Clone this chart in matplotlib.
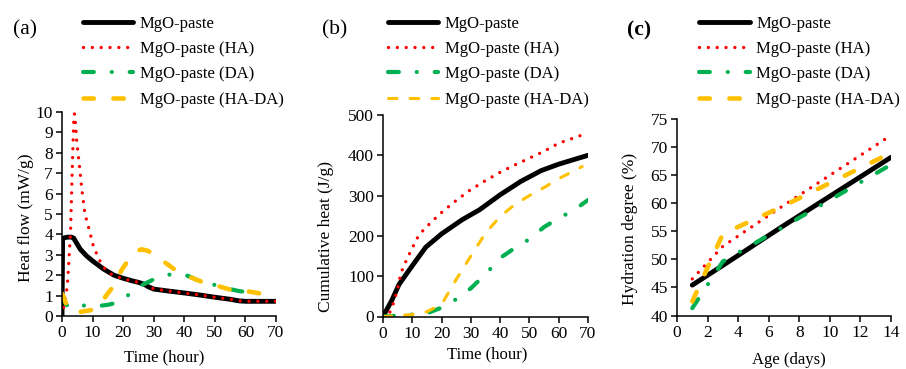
import matplotlib
matplotlib.use("Agg")
import matplotlib.pyplot as plt

plt.rcParams['font.family'] = ['Liberation Serif', 'DejaVu Serif']
plt.rcParams['font.size'] = 12

# ---------------- data ----------------
labels = ["MgO-paste", "MgO-paste (HA)", "MgO-paste (DA)", "MgO-paste (HA-DA)"]

# (a) heat flow
a_t_ctrl = [0, 0.2, 0.5, 1.5, 3.0, 3.8, 6, 8, 10, 13.6, 17, 20, 23, 25, 27, 28, 30, 35, 40, 45, 50, 55, 58, 60, 70]
a_q_ctrl = [0, 3.75, 3.82, 3.86, 3.87, 3.82, 3.27, 2.95, 2.7, 2.3, 2.0, 1.85, 1.72, 1.65, 1.55, 1.45, 1.32, 1.22, 1.13, 1.03, 0.92, 0.82, 0.74, 0.72, 0.72]
a_t_ha = [0, 0.6, 1.7, 2.2, 2.8, 3.3, 3.9, 4.2, 4.8, 5.6, 6.5, 7.5, 8.6, 10.3, 12.5, 14.1, 16.3, 20, 23, 25, 27, 30, 35, 40, 45, 50, 55, 58, 60, 70]
a_q_ha = [0, 0.45, 1.42, 2.55, 4.15, 6.9, 9.9, 9.9, 8.6, 7.5, 6.2, 5.0, 4.4, 3.4, 2.67, 2.3, 2.03, 1.82, 1.72, 1.65, 1.55, 1.33, 1.22, 1.13, 1.03, 0.92, 0.82, 0.74, 0.72, 0.72]
a_t_da = [0, 0.5, 1, 2, 4, 7.6, 10, 12.5, 15, 17.4, 20, 21.9, 24, 25.9, 28, 30.3, 33, 35.2, 38, 40.6, 43, 45.2, 48, 50.1, 53, 55.5, 58, 60, 63]
a_q_da = [1.0, 0.85, 0.65, 0.45, 0.45, 0.52, 0.5, 0.5, 0.55, 0.63, 0.85, 1.05, 1.3, 1.5, 1.65, 1.82, 1.95, 2.03, 2.03, 2.0, 1.85, 1.68, 1.58, 1.52, 1.4, 1.3, 1.22, 1.18, 1.12]
a_t_hd = [0, 0.5, 1.7, 3, 4, 6, 8, 10, 12, 13.5, 15.1, 18, 19.4, 22.1, 24, 26, 28, 29.7, 31, 33.6, 37.3, 40, 42, 46.2, 51, 55.5, 60.3, 65]
a_q_hd = [1.1, 0.95, 0.47, 0.25, 0.17, 0.2, 0.25, 0.3, 0.5, 0.8, 1.13, 1.67, 2.24, 2.82, 3.15, 3.27, 3.2, 3.06, 2.9, 2.63, 2.23, 2.05, 1.9, 1.65, 1.47, 1.27, 1.22, 1.1]

# (b) cumulative heat
b_t_ctrl = [0, 3, 5.5, 10, 14.6, 20, 27, 33, 40, 47, 54, 60, 70]
b_q_ctrl = [0, 40, 80, 126, 172, 205, 240, 265, 302, 335, 362, 378, 400]
b_t_ha = [0, 2, 3.2, 4.9, 6.1, 8.3, 10, 12.3, 16.3, 20.3, 25, 29.4, 34.5, 40, 45, 50, 55, 60, 69]
b_q_ha = [0, 5, 25, 66, 108, 145, 170, 203, 233, 260, 288, 312, 335, 358, 376, 393, 410, 430, 453]
b_t_da = [0, 5, 10, 15, 20, 25, 30, 35, 40, 45, 50, 55, 60, 65, 70]
b_q_da = [0, 2, 5, 8, 22, 43, 70, 105, 145, 170, 192, 222, 244, 263, 289]
b_t_hd = [0, 5, 10, 15, 20, 22, 25, 30, 35, 40, 45, 50, 55, 60, 68]
b_q_hd = [0, 2, 5, 12, 30, 55, 92, 150, 207, 248, 278, 300, 320, 342, 372]

# (c) hydration degree
c_days = [1, 3, 7, 14]
c_ctrl = [45.4, 48.9, 56.0, 68.1]
c_ha = [46.5, 52.3, 59.6, 72.0]
c_da = [41.3, 49.6, 55.8, 66.8]
c_hd = [42.5, 54.5, 59.5, 68.9]

# ---------------- styles ----------------
C_BLACK = "#000000"
C_RED = "#FF0000"
C_GREEN = "#00B050"
C_YELLOW = "#FFC000"

sty_ctrl = dict(color=C_BLACK, lw=3.5, solid_capstyle='round', solid_joinstyle='round')
sty_ha = dict(color=C_RED, lw=2.4, linestyle=(0, (0.01, 2.64)), dash_capstyle='round')
sty_da = dict(color=C_GREEN, lw=3.0, linestyle=(0, (2.6, 4.3, 0.01, 4.3)), dash_capstyle='round')
sty_hd = dict(color=C_YELLOW, lw=3.3, linestyle=(0, (2.26, 4.26)), dash_capstyle='round')
sty_hd_b = dict(color=C_YELLOW, lw=2.2, linestyle=(0, (2.8, 4.3)), dash_capstyle='round')

W, H = 906, 369
fig = plt.figure(figsize=(W / 100, H / 100), dpi=100)

def px_axes(l, r, b, t):
    return fig.add_axes([l / W, 1 - b / H, (r - l) / W, (b - t) / H])

axA = px_axes(62, 276, 316, 112)
axB = px_axes(383, 588, 316.5, 115)
axC = px_axes(677, 891, 315.5, 118.5)

def style_axis(ax):
    for s in ['top', 'right']:
        ax.spines[s].set_visible(False)
    for s in ['left', 'bottom']:
        ax.spines[s].set_linewidth(1.1)
    ax.tick_params(direction='out', length=4, width=1.1, labelsize=12.5, pad=2.5)

# panel a
la = [axA.plot(a_t_ctrl, a_q_ctrl, **sty_ctrl)[0],
      axA.plot(a_t_ha, a_q_ha, **sty_ha)[0],
      axA.plot(a_t_da, a_q_da, **sty_da)[0],
      axA.plot(a_t_hd, a_q_hd, **sty_hd)[0]]
axA.set_xlim(0, 70)
axA.set_ylim(0, 10)
axA.set_xticks(range(0, 71, 10))
axA.set_yticks(range(0, 11, 1))
style_axis(axA)
axA.set_xlabel("Time (hour)", fontsize=12)
axA.set_ylabel("Heat flow (mW/g)", fontsize=12.5)
axA.xaxis.set_label_coords(0.477, -0.165)
axA.yaxis.set_label_coords(-0.131, 0.48)

# panel b
lb = [axB.plot(b_t_ctrl, b_q_ctrl, **sty_ctrl)[0],
      axB.plot(b_t_ha, b_q_ha, **sty_ha)[0],
      axB.plot(b_t_da, b_q_da, **sty_da)[0],
      axB.plot(b_t_hd, b_q_hd, **sty_hd_b)[0]]
axB.set_xlim(0, 70)
axB.set_ylim(0, 500)
axB.set_xticks(range(0, 71, 10))
axB.set_yticks(range(0, 501, 100))
style_axis(axB)
axB.set_xlabel("Time (hour)", fontsize=12)
axB.set_ylabel("Cumulative heat (J/g)", fontsize=12.5)
axB.xaxis.set_label_coords(0.51, -0.149)
axB.yaxis.set_label_coords(-0.241, 0.397)

# panel c
lc = [axC.plot(c_days, c_ctrl, **sty_ctrl)[0],
      axC.plot(c_days, c_ha, **sty_ha)[0],
      axC.plot(c_days, c_da, **sty_da)[0],
      axC.plot(c_days, c_hd, **sty_hd)[0]]
axC.set_xlim(0, 14)
axC.set_ylim(40, 75)
axC.set_xticks(range(0, 15, 2))
axC.set_yticks(range(40, 76, 5))
style_axis(axC)
axC.set_xlabel("Age (days)", fontsize=12)
axC.set_ylabel("Hydration degree (%)", fontsize=12.5)
axC.xaxis.set_label_coords(0.523, -0.185)
axC.yaxis.set_label_coords(-0.18, 0.438)

for ax, hs, x0 in [(axA, la, 82.5), (axB, lb, 387.5), (axC, lc, 699)]:
    ax.legend(hs, labels, loc='upper left', bbox_to_anchor=(x0 / W, 1 - 16 / H),
              bbox_transform=fig.transFigure, frameon=False, borderpad=0,
              borderaxespad=0, handlelength=3.05, handletextpad=0.4,
              labelspacing=0.55, fontsize=12)

fig.text(25 / W, 1 - 30 / H, "(a)", fontsize=15.5, ha='center', va='center')
fig.text(335 / W, 1 - 30 / H, "(b)", fontsize=15.5, ha='center', va='center')
fig.text(639 / W, 1 - 30 / H, "(c)", fontsize=15.5, ha='center', va='center', fontweight='bold')

fig.savefig("out.png", dpi=100)
